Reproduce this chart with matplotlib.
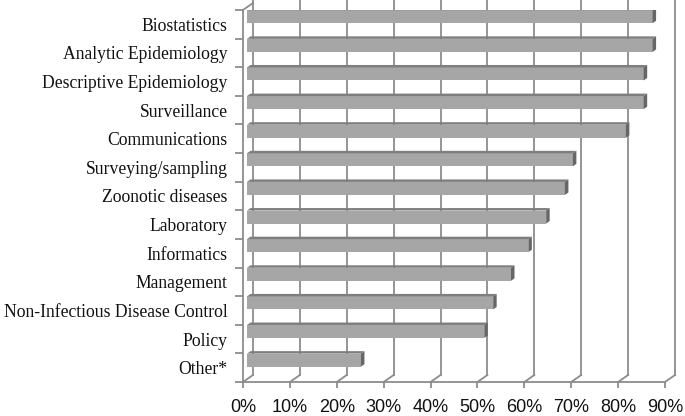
import numpy as np
import matplotlib.pyplot as plt
from matplotlib.patches import Polygon

# data (share of respondents, %)
categories = ['Biostatistics', 'Analytic Epidemiology', 'Descriptive Epidemiology',
              'Surveillance', 'Communications', 'Surveying/sampling',
              'Zoonotic diseases', 'Laboratory', 'Informatics', 'Management',
              'Non-Infectious Disease Control', 'Policy', 'Other*']
values = [86.5, 86.5, 84.6, 84.6, 80.8, 69.5, 67.8, 63.8, 60.0, 56.3, 52.5, 50.6, 24.3]
x_ticks = [0, 10, 20, 30, 40, 50, 60, 70, 80, 90]
x_labels = ['0%', '10%', '20%', '30%', '40%', '50%', '60%', '70%', '80%', '90%']

W, H = 685, 416
fig = plt.figure(figsize=(W / 100, H / 100), dpi=100)
ax = fig.add_axes([243 / W, 34 / H, 422 / W, 372 / H])
n = len(categories)
ax.set_xlim(0, 90)
ax.set_ylim(-0.5, n - 0.5)

# fake 3d depth offset (data units)
px_x = 422 / 90
px_y = 372 / n
dx = 10 / px_x
dy = 7 / px_y

line_col = '#8c8c8c'
lw = 1.3

# back wall gridlines + floor diagonals
for t in x_ticks:
    ax.plot([t + dx, t + dx], [-0.5 + dy, n - 0.5 + dy + 0.1], color=line_col, lw=lw,
            clip_on=False, zorder=1)
    ax.plot([t, t + dx], [-0.5, -0.5 + dy], color=line_col, lw=lw, clip_on=False, zorder=1)
ax.plot([0, dx], [n - 0.5, n - 0.5 + dy], color=line_col, lw=lw, clip_on=False, zorder=1)

# bars with top and side faces
d0, d1 = 0.4, 0.75
face_col = '#a6a6a6'
top_col = '#7e7e7e'
side_col = '#666666'
ypos = np.arange(n)[::-1]
bh = 0.455
for y, v in zip(ypos, values):
    x0 = d0 * dx
    yb = y - 0.06 + d0 * dy
    yt = yb + bh
    ddx = (d1 - d0) * dx
    ddy = (d1 - d0) * dy
    ax.barh(yb + bh / 2, v, left=x0, height=bh, color=face_col, edgecolor='none', zorder=3)
    ax.add_patch(Polygon([(x0, yt), (x0 + v, yt), (x0 + v + ddx, yt + ddy), (x0 + ddx, yt + ddy)],
                         closed=True, facecolor=top_col, edgecolor='none', zorder=3))
    ax.add_patch(Polygon([(x0 + v, yb), (x0 + v, yt), (x0 + v + ddx, yt + ddy), (x0 + v + ddx, yb + ddy)],
                         closed=True, facecolor=side_col, edgecolor='none', zorder=3))

# front axes
for s in ['top', 'right']:
    ax.spines[s].set_visible(False)
for s in ['left', 'bottom']:
    ax.spines[s].set_color(line_col)
    ax.spines[s].set_linewidth(lw)

ax.set_xticks(x_ticks)
ax.set_xticklabels(x_labels, fontfamily='Liberation Sans', fontsize=13, color='#111111')
ax.tick_params(axis='x', length=4, width=lw, color=line_col, pad=8)

ax.set_yticks(ypos)
ax.set_yticklabels(categories, fontfamily='Liberation Serif', fontsize=12.7, color='#111111')
ax.set_yticks(np.arange(-0.5, n, 1.0), minor=True)
ax.tick_params(axis='y', which='major', length=0, pad=11)
ax.tick_params(axis='y', which='minor', length=6, width=lw, color=line_col)

fig.savefig('out.png', dpi=100)
